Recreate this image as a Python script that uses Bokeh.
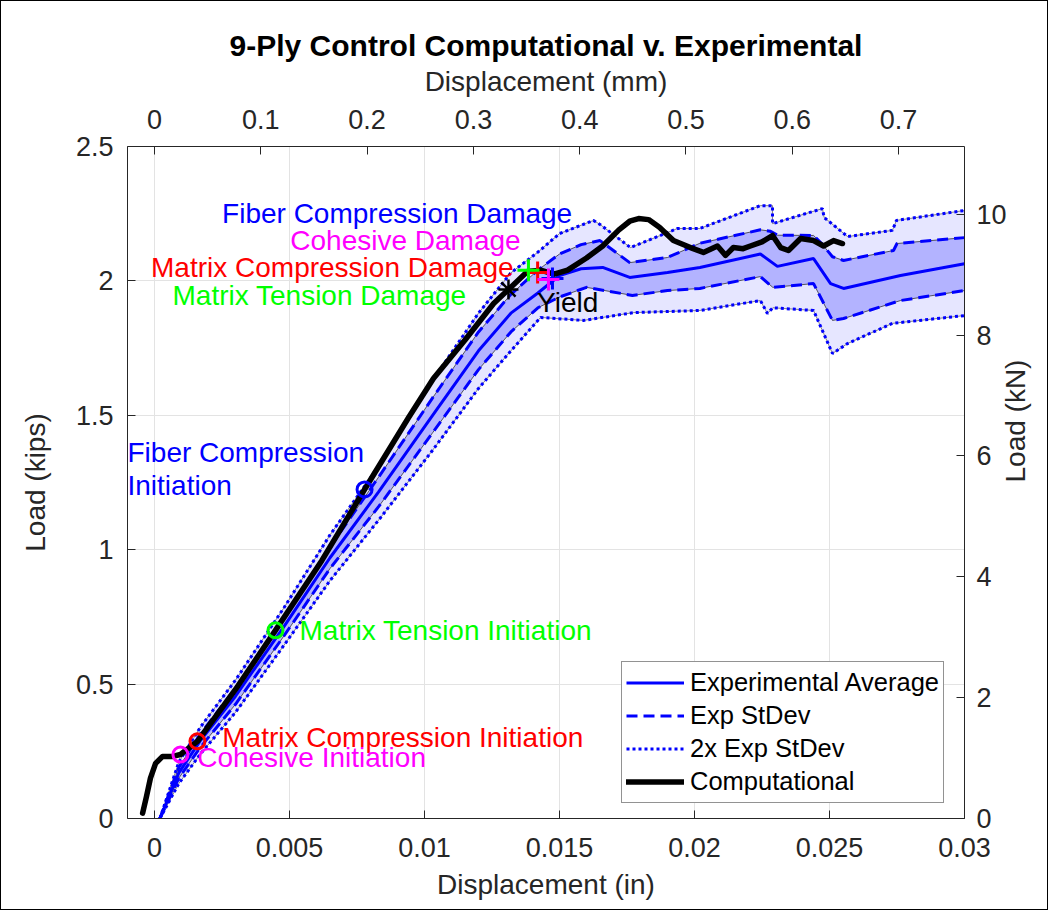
import math
from bokeh.plotting import figure
from bokeh.models import (Range1d, LinearAxis, FixedTicker, CustomJSTickFormatter,
                          Legend, LegendItem, ColumnDataSource)
from bokeh.core.properties import value
from bokeh.embed import file_html
from bokeh.resources import INLINE

FONT = "Liberation Sans"

# ---------------- data ----------------
x_ticks_in = [0, 0.005, 0.01, 0.015, 0.02, 0.025, 0.03]
x_ticks_mm = [0, 0.1, 0.2, 0.3, 0.4, 0.5, 0.6, 0.7]
y_ticks_kips = [0, 0.5, 1, 1.5, 2, 2.5]
y_ticks_kn = [0, 2, 4, 6, 8, 10]

mean_x = [0.0002, 0.0009, 0.0017, 0.003, 0.0048, 0.0065, 0.0083, 0.0103, 0.012, 0.0132,
          0.0142, 0.015, 0.0158, 0.0166, 0.0176, 0.019, 0.0202, 0.02244, 0.02307, 0.02441,
          0.02504, 0.02552, 0.02763, 0.03]
mean_y = [0.0, 0.17, 0.29, 0.455, 0.715, 0.97, 1.215, 1.50, 1.74, 1.88,
          1.955, 2.02, 2.045, 2.05, 2.013, 2.031, 2.05, 2.10, 2.054, 2.083,
          1.99, 1.972, 2.02, 2.064]

u1_x = [0.0002, 0.0009, 0.0017, 0.003, 0.0048, 0.0065, 0.0083, 0.0103, 0.012, 0.0132,
        0.0142, 0.015, 0.0158, 0.0165, 0.0176, 0.019, 0.0202, 0.02244, 0.0228, 0.02307,
        0.02441, 0.0247, 0.02511, 0.02552, 0.02737, 0.0275, 0.03]
u1_y = [0.0, 0.19, 0.315, 0.485, 0.75, 1.01, 1.27, 1.565, 1.81, 1.95,
        2.04, 2.10, 2.135, 2.15, 2.068, 2.087, 2.14, 2.19, 2.185, 2.17,
        2.169, 2.14, 2.09, 2.076, 2.113, 2.139, 2.161]

l1_x = [0.0002, 0.0009, 0.0017, 0.003, 0.0048, 0.0065, 0.0083, 0.0103, 0.012, 0.0132,
        0.0142, 0.015, 0.016, 0.0177, 0.019, 0.0202, 0.02244, 0.0229, 0.02441, 0.02511,
        0.02552, 0.02763, 0.03]
l1_y = [0.0, 0.15, 0.265, 0.425, 0.68, 0.93, 1.16, 1.435, 1.67, 1.81,
        1.90, 1.94, 1.976, 1.946, 1.964, 1.972, 2.016, 1.976, 1.99, 1.853,
        1.86, 1.927, 1.964]

u2_x = [0.0002, 0.0009, 0.0017, 0.003, 0.0048, 0.0065, 0.0083, 0.0103, 0.012, 0.0132,
        0.0142, 0.015, 0.01626, 0.0165, 0.01763, 0.01937, 0.0202, 0.02244, 0.02289, 0.02289,
        0.02474, 0.0248, 0.02567, 0.02733, 0.02748, 0.03]
u2_y = [0.0, 0.21, 0.34, 0.515, 0.785, 1.055, 1.31, 1.63, 1.88, 2.03,
        2.107, 2.176, 2.225, 2.21, 2.124, 2.195, 2.195, 2.28, 2.28, 2.213,
        2.269, 2.236, 2.165, 2.188, 2.225, 2.262]

l2_x = [0.0002, 0.0009, 0.0017, 0.003, 0.0048, 0.0065, 0.0083, 0.0103, 0.012, 0.0132,
        0.0143, 0.01589, 0.01774, 0.0202, 0.02244, 0.0227, 0.0229, 0.02441, 0.02511, 0.02567,
        0.02733, 0.03]
l2_y = [0.0, 0.13, 0.24, 0.395, 0.645, 0.885, 1.11, 1.37, 1.60, 1.74,
        1.864, 1.853, 1.882, 1.89, 1.927, 1.879, 1.90, 1.89, 1.73, 1.767,
        1.842, 1.871]

comp_x = [-0.00044, -0.0003, -0.00015, 0.00004, 0.0003, 0.00067, 0.00096, 0.00159, 0.003, 0.00448,
          0.0062, 0.00778, 0.0094, 0.01033, 0.0115, 0.01256, 0.01311, 0.01381, 0.0143, 0.0148,
          0.0153, 0.016, 0.0166, 0.0172, 0.0176, 0.01793, 0.0183, 0.0187, 0.01922, 0.01985,
          0.02033, 0.02085, 0.02115, 0.02144, 0.0218, 0.02207, 0.0225, 0.02289, 0.02319, 0.02348,
          0.02393, 0.02441, 0.02478, 0.02515, 0.02548]
comp_y = [0.02, 0.08, 0.15, 0.205, 0.231, 0.231, 0.238, 0.287, 0.48, 0.70,
          0.96, 1.224, 1.49, 1.637, 1.78, 1.916, 1.968, 2.035, 2.04, 2.025,
          2.04, 2.085, 2.13, 2.19, 2.222, 2.232, 2.228, 2.2, 2.15, 2.124,
          2.106, 2.13, 2.095, 2.124, 2.12, 2.13, 2.145, 2.169, 2.124, 2.113,
          2.158, 2.150, 2.13, 2.150, 2.139]

init_x = [0.00096, 0.00159, 0.00448, 0.00778]
init_y = [0.238, 0.287, 0.70, 1.224]
init_c = ["#ff00ff", "#ff0000", "#00ff00", "#0000ff"]

dmg_x = [0.01474, 0.01419, 0.01385, 0.01459]
dmg_y = [2.009, 2.031, 2.04, 2.005]
dmg_c = ["#0000ff", "#ff0000", "#00ff00", "#ff00ff"]

yield_x = [0.01311]
yield_y = [1.968]

right_lbl_x = [0.01547, 0.01356, 0.0133, 0.01156]
right_lbl_y = [2.25, 2.15, 2.05, 1.946]
right_lbl_t = ["Fiber Compression Damage", "Cohesive Damage",
               "Matrix Compression Damage", "Matrix Tension Damage"]
right_lbl_c = ["#0000ff", "#ff00ff", "#ff0000", "#00ff00"]

left_lbl_x = [0.01417, -0.001, -0.001, 0.00537, 0.00251, 0.00158]
left_lbl_y = [1.921, 1.362, 1.239, 0.70, 0.3025, 0.228]
left_lbl_t = ["Yield", "Fiber Compression", "Initiation", "Matrix Tension Initiation",
              "Matrix Compression Initiation", "Cohesive Initiation"]
left_lbl_c = ["#000000", "#0000ff", "#0000ff", "#00ff00", "#ff0000", "#ff00ff"]

KIPS_TO_KN = 4.44822
IN_TO_MM = 25.4

# ---------------- figure ----------------
p = figure(width=1048, height=910, output_backend="svg", toolbar_location=None,
           x_range=Range1d(-0.001, 0.03), y_range=Range1d(0, 2.5),
           min_border_left=126, min_border_right=85, min_border_top=145,
           min_border_bottom=93, title="9-Ply Control Computational v. Experimental",
           styles={"border": "1px solid black"})
p.background_fill_color = "white"
p.border_fill_color = "white"
p.outline_line_color = None

p.title.text_font = FONT
p.title.text_font_size = "30px"
p.title.text_font_style = "bold"
p.title.align = "center"
p.title.text_color = "#000000"
p.title.standoff = 2

p.extra_y_ranges = {"kN": Range1d(0, 2.5 * KIPS_TO_KN)}
p.extra_x_ranges = {"mm": Range1d(-0.001 * IN_TO_MM, 0.03 * IN_TO_MM)}

bottom_ax = p.below[0]
left_ax = p.left[0]
right_ax = LinearAxis(y_range_name="kN", axis_label="Load (kN)")
top_ax = LinearAxis(x_range_name="mm", axis_label="Displacement (mm)")
p.add_layout(right_ax, "right")
p.add_layout(top_ax, "above")

bottom_ax.axis_label = "Displacement (in)"
left_ax.axis_label = "Load (kips)"

for ax, ticks in [(bottom_ax, x_ticks_in), (left_ax, y_ticks_kips),
                  (right_ax, y_ticks_kn), (top_ax, x_ticks_mm)]:
    ax.ticker = FixedTicker(ticks=ticks)
    ax.formatter = CustomJSTickFormatter(code="return tick.toString();")
    ax.axis_line_color = "#262626"
    ax.major_tick_line_color = "#262626"
    ax.major_tick_in = 8
    ax.major_tick_out = 0
    ax.minor_tick_line_color = None
    ax.major_label_text_font = FONT
    ax.major_label_text_font_size = "27px"
    ax.major_label_text_color = "#262626"
    ax.axis_label_text_font = FONT
    ax.axis_label_text_font_size = "28px"
    ax.axis_label_text_font_style = "normal"
    ax.axis_label_text_color = "#262626"

bottom_ax.major_label_standoff = 19
bottom_ax.axis_label_standoff = 9
top_ax.major_label_standoff = 18
top_ax.axis_label_standoff = 10
left_ax.major_label_standoff = 14
left_ax.axis_label_standoff = 22
right_ax.major_label_standoff = 12
right_ax.axis_label_standoff = 6
right_ax.axis_label_orientation = math.pi / 2

p.xgrid.grid_line_color = "#e3e3e3"
p.ygrid.grid_line_color = "#e3e3e3"

# bands
p.patch(u2_x + l2_x[::-1], u2_y + l2_y[::-1], fill_color="#e6e6ff",
        line_color="#555555", line_width=0.7)
p.patch(u1_x + l1_x[::-1], u1_y + l1_y[::-1], fill_color="#b3b3ff",
        line_color="#333333", line_width=0.8)

r_u2 = p.line(u2_x, u2_y, line_color="#0000ff", line_width=3, line_dash="3 3")
p.line(l2_x, l2_y, line_color="#0000ff", line_width=3, line_dash="3 3")
r_u1 = p.line(u1_x, u1_y, line_color="#0000ff", line_width=3, line_dash="11 6")
p.line(l1_x, l1_y, line_color="#0000ff", line_width=3, line_dash="11 6")
r_mean = p.line(mean_x, mean_y, line_color="#0000ff", line_width=3)
r_comp = p.line(comp_x, comp_y, line_color="#000000", line_width=5.5,
                line_join="round", line_cap="round")

init_src = ColumnDataSource(dict(x=init_x, y=init_y, c=init_c))
p.scatter("x", "y", source=init_src, marker="circle", size=15, fill_color=None,
          line_color="c", line_width=3)
dmg_src = ColumnDataSource(dict(x=dmg_x, y=dmg_y, c=dmg_c))
p.scatter("x", "y", source=dmg_src, marker="cross", size=22, line_color="c", line_width=3)
p.scatter(yield_x, yield_y, marker="asterisk", size=20, line_color="#000000", line_width=2.5)

rsrc = ColumnDataSource(dict(x=right_lbl_x, y=right_lbl_y, t=right_lbl_t, c=right_lbl_c))
p.text("x", "y", text="t", source=rsrc, text_color="c", text_align="right",
       text_baseline="middle", text_font=value(FONT), text_font_size="28px")
lsrc = ColumnDataSource(dict(x=left_lbl_x, y=left_lbl_y, t=left_lbl_t, c=left_lbl_c))
p.text("x", "y", text="t", source=lsrc, text_color="c", text_align="left",
       text_baseline="middle", text_font=value(FONT), text_font_size="28px")

legend = Legend(items=[LegendItem(label="Experimental Average", renderers=[r_mean]),
                       LegendItem(label="Exp StDev", renderers=[r_u1]),
                       LegendItem(label="2x Exp StDev", renderers=[r_u2]),
                       LegendItem(label="Computational", renderers=[r_comp])],
                location=(494, 15))
legend.label_text_font = FONT
legend.label_text_font_size = "25.5px"
legend.label_text_color = "#000000"
legend.glyph_width = 58
legend.glyph_height = 33
legend.label_height = 33
legend.spacing = 0
legend.padding = 4
legend.margin = 0
legend.label_standoff = 6
legend.border_line_color = "#262626"
legend.border_line_width = 1
legend.background_fill_color = "white"
legend.background_fill_alpha = 1
p.add_layout(legend, "center")

open("out.html", "w").write(file_html(p, INLINE))
